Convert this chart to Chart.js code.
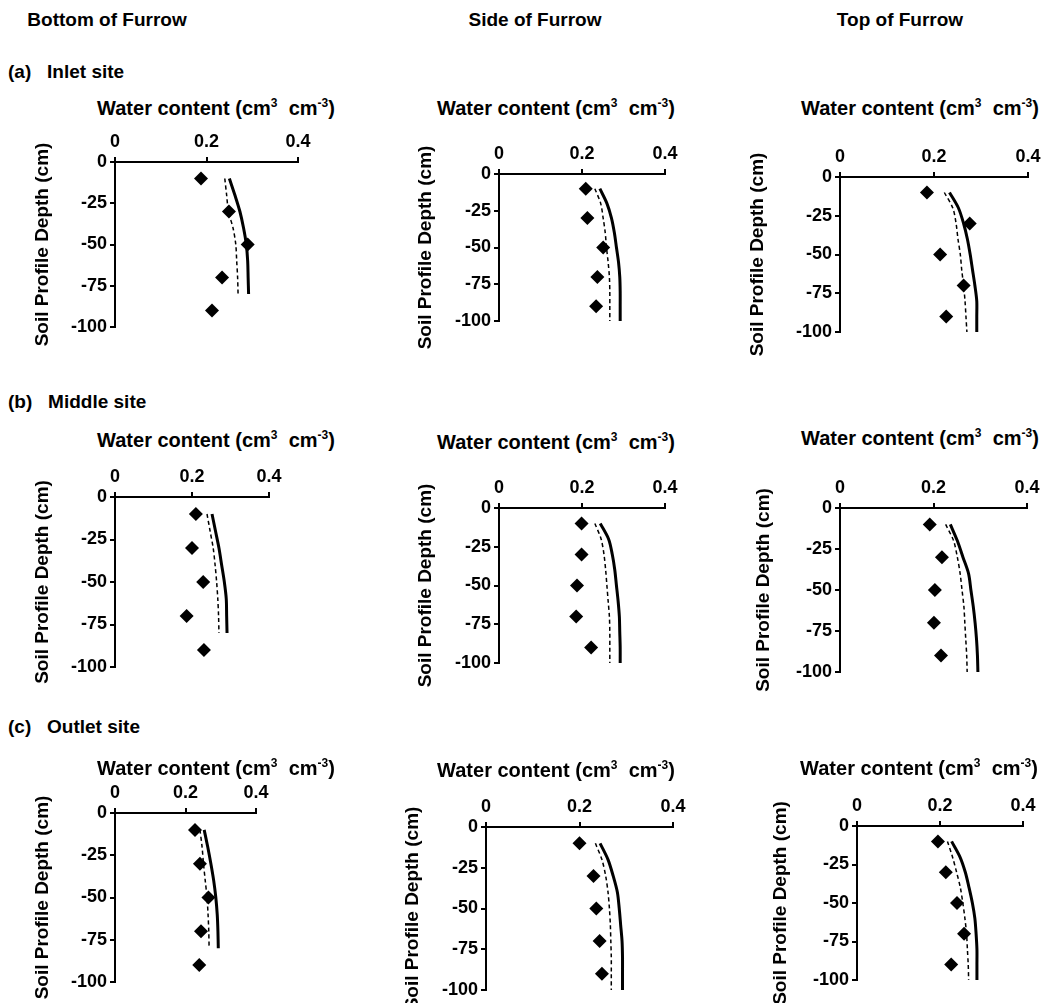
<!DOCTYPE html>
<html>
<head>
<meta charset="utf-8">
<script src="https://cdn.jsdelivr.net/npm/chart.js@4.4.1/dist/chart.umd.min.js"></script>
<style>
  body { margin: 0; background: #fff; }
  #page { position: relative; width: 1047px; height: 1003px; overflow: hidden;
          font-family: "Liberation Sans", Arial, sans-serif; font-weight: bold; color: #000; }
  .hdr { position: absolute; font-size: 19px; white-space: nowrap; transform: translate(-50%, -50%); }
  .row { position: absolute; font-size: 19px; white-space: nowrap; transform: translateY(-50%); }
  .xt  { position: absolute; font-size: 20px; white-space: nowrap; transform: translate(-50%, -50%); }
  .xt sup { font-size: 12px; vertical-align: 8px; line-height: 0; }
  canvas { position: absolute; }
</style>
</head>
<body>
<div id="page">
  <div class="hdr" style="left:107px; top:20px;">Bottom of Furrow</div>
  <div class="hdr" style="left:535px; top:20px;">Side of Furrow</div>
  <div class="hdr" style="left:900px; top:20px;">Top of Furrow</div>
  <div class="row" style="left:8px; top:72px;">(a)&nbsp;&nbsp;&nbsp;Inlet site</div>
  <div class="row" style="left:8px; top:402px;">(b)&nbsp;&nbsp;&nbsp;Middle site</div>
  <div class="row" style="left:8px; top:727px;">(c)&nbsp;&nbsp;&nbsp;Outlet site</div>
</div>
<script>
// profundidades (cm)
const depthObs = [-10, -30, -50, -70, -90];
const depthSim80 = [-10, -20, -30, -40, -50, -60, -70, -80];
const depthSim100 = [-10, -20, -30, -40, -50, -60, -70, -80, -90, -100];

const xTicks = [0, 0.2, 0.4];
const yTicks = [0, -25, -50, -75, -100];

// (a) Inlet site
const obsInletBottom = [0.188, 0.249, 0.290, 0.234, 0.212];
const solidInletBottom = [0.250, 0.262, 0.273, 0.281, 0.287, 0.290, 0.291, 0.292];
const dashInletBottom = [0.240, 0.244, 0.248, 0.258, 0.264, 0.266, 0.268, 0.269];

const obsInletSide = [0.209, 0.213, 0.251, 0.237, 0.234];
const solidInletSide = [0.243, 0.260, 0.271, 0.278, 0.283, 0.288, 0.291, 0.292, 0.292, 0.292];
const dashInletSide = [0.231, 0.245, 0.251, 0.256, 0.259, 0.263, 0.266, 0.267, 0.267, 0.267];

const obsInletTop = [0.185, 0.276, 0.213, 0.263, 0.226];
const solidInletTop = [0.233, 0.252, 0.263, 0.271, 0.277, 0.282, 0.287, 0.291, 0.291, 0.291];
const dashInletTop = [0.222, 0.240, 0.247, 0.251, 0.256, 0.259, 0.263, 0.266, 0.268, 0.270];

// (b) Middle site
const obsMiddleBottom = [0.210, 0.200, 0.229, 0.186, 0.231];
const solidMiddleBottom = [0.252, 0.261, 0.270, 0.277, 0.284, 0.289, 0.290, 0.291];
const dashMiddleBottom = [0.239, 0.247, 0.255, 0.260, 0.264, 0.267, 0.269, 0.270];

const obsMiddleSide = [0.199, 0.199, 0.188, 0.186, 0.222];
const solidMiddleSide = [0.244, 0.264, 0.273, 0.279, 0.283, 0.287, 0.290, 0.291, 0.292, 0.292];
const dashMiddleSide = [0.231, 0.246, 0.253, 0.257, 0.260, 0.263, 0.266, 0.267, 0.267, 0.267];

const obsMiddleTop = [0.192, 0.218, 0.203, 0.201, 0.216];
const solidMiddleTop = [0.236, 0.251, 0.263, 0.275, 0.280, 0.285, 0.289, 0.292, 0.294, 0.295];
const dashMiddleTop = [0.226, 0.243, 0.251, 0.257, 0.261, 0.265, 0.267, 0.269, 0.271, 0.272];

// (c) Outlet site
const obsOutletBottom = [0.227, 0.241, 0.265, 0.244, 0.239];
const solidOutletBottom = [0.253, 0.263, 0.272, 0.280, 0.286, 0.290, 0.292, 0.293];
const dashOutletBottom = [0.241, 0.247, 0.251, 0.256, 0.261, 0.264, 0.266, 0.267];

const obsOutletSide = [0.200, 0.230, 0.236, 0.243, 0.248];
const solidOutletSide = [0.244, 0.261, 0.272, 0.281, 0.285, 0.288, 0.291, 0.292, 0.292, 0.292];
const dashOutletSide = [0.234, 0.248, 0.256, 0.261, 0.264, 0.266, 0.267, 0.268, 0.268, 0.268];

const obsOutletTop = [0.195, 0.214, 0.241, 0.258, 0.227];
const solidOutletTop = [0.228, 0.248, 0.261, 0.270, 0.278, 0.284, 0.287, 0.289, 0.289, 0.289];
const dashOutletTop = [0.218, 0.230, 0.240, 0.249, 0.255, 0.260, 0.264, 0.266, 0.268, 0.269];

// posiciones de cada panel en la pagina
const panels = [
  { x0: 115, x1: 298, y0: 162, y1: 327, tx: 216, ty: 108, yt: 42,  obs: obsInletBottom, solid: solidInletBottom, dash: dashInletBottom, sim: depthSim80 },
  { x0: 499, x1: 665, y0: 174, y1: 321, tx: 556, ty: 108, yt: 425, obs: obsInletSide, solid: solidInletSide, dash: dashInletSide, sim: depthSim100 },
  { x0: 840, x1: 1028, y0: 177, y1: 332, tx: 920, ty: 108, yt: 757, obs: obsInletTop, solid: solidInletTop, dash: dashInletTop, sim: depthSim100 },
  { x0: 115, x1: 269, y0: 497, y1: 667, tx: 216, ty: 440, yt: 42,  obs: obsMiddleBottom, solid: solidMiddleBottom, dash: dashMiddleBottom, sim: depthSim80 },
  { x0: 499, x1: 665, y0: 508, y1: 663, tx: 556, ty: 442, yt: 425, obs: obsMiddleSide, solid: solidMiddleSide, dash: dashMiddleSide, sim: depthSim100 },
  { x0: 840, x1: 1027, y0: 508, y1: 672, tx: 920, ty: 438, yt: 763, obs: obsMiddleTop, solid: solidMiddleTop, dash: dashMiddleTop, sim: depthSim100 },
  { x0: 115, x1: 256, y0: 813, y1: 982, tx: 216, ty: 768, yt: 42,  obs: obsOutletBottom, solid: solidOutletBottom, dash: dashOutletBottom, sim: depthSim80 },
  { x0: 486, x1: 673, y0: 827, y1: 990, tx: 556, ty: 770, yt: 412, obs: obsOutletSide, solid: solidOutletSide, dash: dashOutletSide, sim: depthSim100 },
  { x0: 857, x1: 1023, y0: 826, y1: 980, tx: 919, ty: 768, yt: 780, obs: obsOutletTop, solid: solidOutletTop, dash: dashOutletTop, sim: depthSim100 }
];

const page = document.getElementById('page');
const tickFont = { family: "'Liberation Sans', Arial, sans-serif", size: 18, weight: 'bold' };
const yTitleFont = { family: "'Liberation Sans', Arial, sans-serif", size: 19, weight: 'bold' };
const HX = 34;       // alto del eje x (arriba)
const PAD_R = 24;    // margen derecho
const PAD_B = 50;    // margen abajo (deja sitio al titulo vertical)

const pts = (xs, ys) => xs.map((v, i) => ({ x: v, y: ys[i] }));

panels.forEach(p => {
  const WY = Math.round(p.x0 - p.yt + yTitleFont.size * 0.6);
  const plotW = p.x1 - p.x0, plotH = p.y1 - p.y0;

  const canvas = document.createElement('canvas');
  canvas.width = WY + plotW + PAD_R;
  canvas.height = HX + plotH + PAD_B;
  canvas.style.left = (p.x0 - WY) + 'px';
  canvas.style.top = (p.y0 - HX) + 'px';
  page.appendChild(canvas);

  const title = document.createElement('div');
  title.className = 'xt';
  title.style.left = p.tx + 'px';
  title.style.top = p.ty + 'px';
  title.innerHTML = 'Water content (cm<sup>3</sup>&nbsp; cm<sup>-3</sup>)';
  page.appendChild(title);

  new Chart(canvas, {
    type: 'scatter',
    data: {
      datasets: [
        {
          label: 'Observed',
          data: pts(p.obs, depthObs),
          pointStyle: 'rectRot',
          pointRadius: 7,
          backgroundColor: '#000',
          borderColor: '#000',
          borderWidth: 0,
          showLine: false
        },
        {
          label: 'Simulated',
          data: pts(p.solid, p.sim),
          showLine: true,
          pointRadius: 0,
          borderColor: '#000',
          borderWidth: 3,
          tension: 0.3
        },
        {
          label: 'Simulated (dashed)',
          data: pts(p.dash, p.sim),
          showLine: true,
          pointRadius: 0,
          borderColor: '#000',
          borderWidth: 1.5,
          borderDash: [4, 3],
          tension: 0.3
        }
      ]
    },
    options: {
      responsive: false,
      animation: false,
      events: [],
      layout: { padding: { left: 0, top: 0, right: PAD_R, bottom: PAD_B } },
      plugins: { legend: { display: false }, tooltip: { enabled: false } },
      scales: {
        x: {
          type: 'linear',
          position: 'top',
          min: xTicks[0],
          max: xTicks[xTicks.length - 1],
          afterBuildTicks: s => { s.ticks = xTicks.map(v => ({ value: v })); },
          ticks: { font: tickFont, color: '#000', padding: 4, maxRotation: 0,
                   callback: v => (v === 0 ? '0' : v.toFixed(1)) },
          grid: { drawOnChartArea: false, drawTicks: true, tickLength: 5, color: '#000', lineWidth: 2 },
          border: { display: true, color: '#000', width: 2 },
          afterFit: s => { s.height = HX; }
        },
        y: {
          type: 'linear',
          min: yTicks[yTicks.length - 1],
          max: yTicks[0],
          afterBuildTicks: s => { s.ticks = yTicks.map(v => ({ value: v })); },
          ticks: { font: tickFont, color: '#000', padding: 3, callback: v => String(v) },
          grid: { drawOnChartArea: false, drawTicks: true, tickLength: 5, color: '#000', lineWidth: 2 },
          border: { display: true, color: '#000', width: 2 },
          title: { display: true, text: 'Soil Profile Depth (cm)', color: '#000', font: yTitleFont, padding: 0 },
          afterFit: s => { s.width = WY; }
        }
      }
    }
  });
});
</script>
</body>
</html>
